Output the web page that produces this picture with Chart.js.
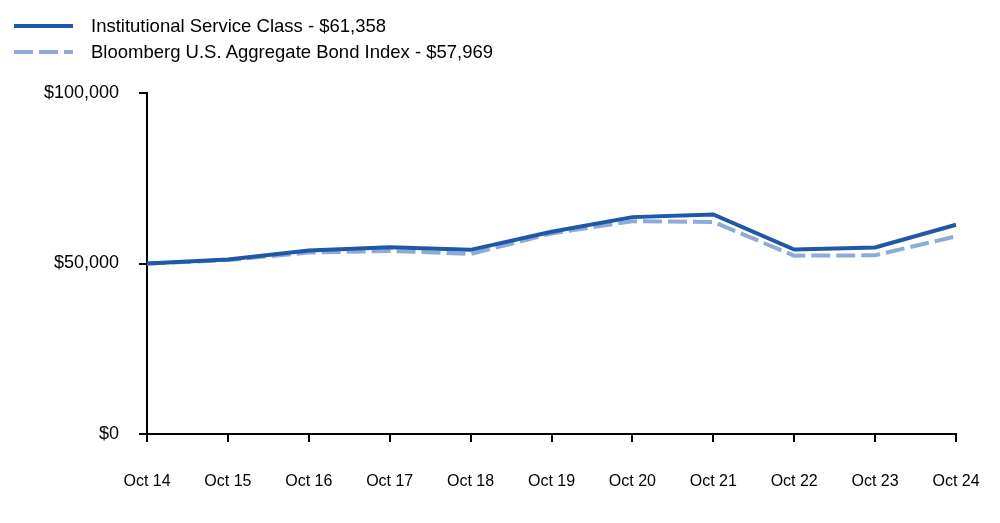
<!DOCTYPE html>
<html>
<head>
<meta charset="utf-8">
<script src="https://cdn.jsdelivr.net/npm/chart.js@4"></script>
<style>
  html, body { margin: 0; padding: 0; background: #fff; }
  #wrap { position: relative; width: 1000px; height: 523px; }
  #legend { position: absolute; left: 14px; top: 13px; font-family: "Liberation Sans", Arial, sans-serif; font-size: 18.5px; color: #000; }
  .row { display: flex; align-items: center; height: 26px; }
  .row svg { margin-right: 18px; }
</style>
</head>
<body>
<div id="wrap">
  <canvas id="chart" width="1000" height="523"></canvas>
  <div id="legend"></div>
</div>
<script>
const labels = ['Oct 14', 'Oct 15', 'Oct 16', 'Oct 17', 'Oct 18', 'Oct 19', 'Oct 20', 'Oct 21', 'Oct 22', 'Oct 23', 'Oct 24'];
const institutional = [50000, 51200, 53800, 54800, 54000, 59300, 63600, 64400, 54100, 54700, 61358];
const bloomberg = [50000, 51000, 53200, 53700, 52800, 58800, 62400, 62200, 52300, 52400, 57969];
const seriesNames = ['Institutional Service Class - $61,358', 'Bloomberg U.S. Aggregate Bond Index - $57,969'];
const yTicks = [0, 50000, 100000];

const solidBlue = '#1f58a6';
const lightBlue = '#8eaad8';

// legend drawn as html so it sits exactly where the reference has it
const legend = document.getElementById('legend');
const styles = [{ color: solidBlue, dash: '' }, { color: lightBlue, dash: '19,6' }];
seriesNames.forEach((name, i) => {
    const row = document.createElement('div');
    row.className = 'row';
    row.innerHTML = `<svg width="59" height="6"><line x1="0" y1="3" x2="59" y2="3" stroke="${styles[i].color}" stroke-width="4" stroke-dasharray="${styles[i].dash}"/></svg><span>${name}</span>`;
    legend.appendChild(row);
});

const ctx = document.getElementById('chart').getContext('2d');
new Chart(ctx, {
    type: 'line',
    data: {
        labels: labels,
        datasets: [
            { label: seriesNames[0], data: institutional, borderColor: solidBlue, borderWidth: 4, pointRadius: 0, fill: false, tension: 0 },
            { label: seriesNames[1], data: bloomberg, borderColor: lightBlue, borderWidth: 4, borderDash: [19, 6], pointRadius: 0, fill: false, tension: 0 }
        ]
    },
    options: {
        responsive: false,
        animation: false,
        layout: { padding: { top: 93, right: 44, left: 0, bottom: 0 } },
        plugins: { legend: { display: false }, tooltip: { enabled: false } },
        scales: {
            x: {
                offset: false,
                grid: { display: true, drawOnChartArea: false, drawTicks: true, tickLength: 8, color: '#000', lineWidth: 2, offset: false },
                border: { display: true, color: '#000', width: 2 },
                ticks: { color: '#000', font: { family: 'Liberation Sans', size: 16 }, padding: 30, maxRotation: 0, autoSkip: false },
                afterFit: scale => {
                    scale.height = 89;
                    scale.paddingLeft = 0;
                    scale.paddingRight = 0;
                }
            },
            y: {
                min: 0,
                max: 100000,
                afterBuildTicks: scale => { scale.ticks = yTicks.map(v => ({ value: v })); },
                grid: { display: true, drawOnChartArea: false, drawTicks: true, tickLength: 8, color: '#000', lineWidth: 2 },
                border: { display: true, color: '#000', width: 2 },
                ticks: {
                    color: '#000',
                    font: { family: 'Liberation Sans', size: 18 },
                    padding: 20,
                    callback: v => '$' + Number(v).toLocaleString('en-US')
                },
                afterFit: scale => {
                    scale.width = 147;
                    scale.paddingTop = 0;
                    scale.paddingBottom = 0;
                }
            }
        }
    }
});
</script>
</body>
</html>
